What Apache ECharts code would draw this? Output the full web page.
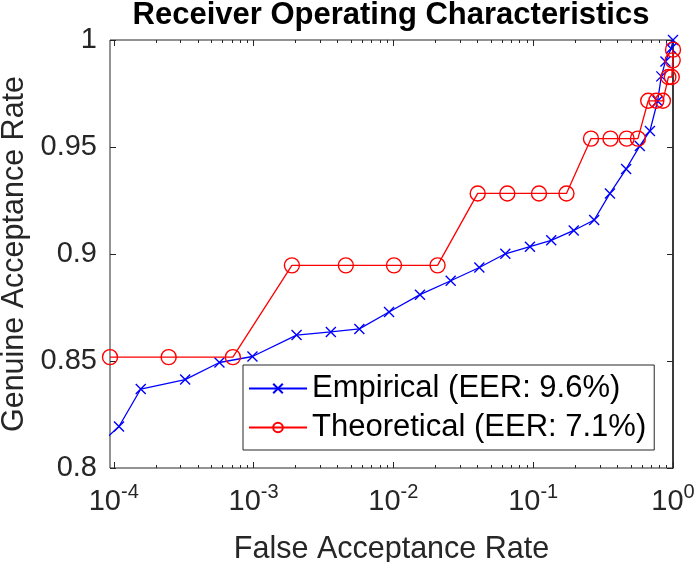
<!DOCTYPE html>
<html>
<head>
<meta charset="utf-8">
<script src="https://cdn.jsdelivr.net/npm/echarts@6/dist/echarts.min.js"></script>
<style>
html,body{margin:0;padding:0;background:#fff;}
#chart{width:699px;height:562px;}
</style>
</head>
<body>
<div id="chart"></div>
<script>
// ---- data ----
const titleText = 'Receiver Operating Characteristics';
const xName = 'False Acceptance Rate';
const yName = 'Genuine Acceptance Rate';
const empName = 'Empirical (EER: 9.6%)';
const theoName = 'Theoretical (EER: 7.1%)';

const empFAR = [5.2e-5, 1.09e-4, 1.56e-4, 3.24e-4, 5.70e-4, 9.82e-4, 2.03e-3, 3.57e-3, 5.71e-3, 9.31e-3, 0.0155, 0.0257, 0.0412, 0.0632, 0.0948, 0.1346, 0.195, 0.273, 0.354, 0.462, 0.579, 0.684, 0.776, 0.825, 0.883, 0.97, 1.0];
const empGAR = [0.800, 0.8194, 0.8369, 0.8413, 0.8493, 0.8521, 0.8621, 0.8636, 0.8650, 0.8729, 0.8810, 0.8875, 0.8937, 0.9001, 0.9034, 0.9064, 0.9110, 0.9159, 0.9283, 0.9397, 0.9505, 0.9575, 0.9715, 0.9830, 0.9900, 0.9960, 1.0];

const theoFAR = [9.4e-5, 2.47e-4, 7.11e-4, 1.88e-3, 4.57e-3, 1.01e-2, 2.07e-2, 4.01e-2, 6.53e-2, 0.110, 0.173, 0.259, 0.357, 0.466, 0.561, 0.665, 0.760, 0.847, 0.927, 0.980, 0.995, 1.0];
const theoGAR = [0.8518, 0.8518, 0.8518, 0.8947, 0.8947, 0.8947, 0.8947, 0.9283, 0.9283, 0.9283, 0.9283, 0.9539, 0.9539, 0.9539, 0.9539, 0.9716, 0.9716, 0.9716, 0.9827, 0.9827, 0.9905, 0.9955];

const xMin = 9.4e-5;
const xMax = 1;
const xMajorTicks = [1e-4, 1e-3, 1e-2, 1e-1, 1];
const xMinorMult = [2, 3, 4, 5, 6, 7, 8, 9];
const xMinorDecades = [1e-5, 1e-4, 1e-3, 1e-2, 1e-1];
const yMin = 0.8, yMax = 1, yStep = 0.05;

// ---- build ----
const FONT = '"Liberation Sans", Arial, Helvetica, sans-serif';
const AX = '#262626';
const xMinorTicks = [];
xMinorDecades.forEach(d => xMinorMult.forEach(m => {
  const v = +(d * m).toPrecision(3);
  if (v >= xMin && v <= xMax) xMinorTicks.push(v);
}));

function zip(a, b) { return a.map((v, i) => [v, b[i]]); }

function xAxisDef(pos, ticks, len, withLabel) {
  return {
    type: 'log', logBase: 10, min: xMin, max: xMax, position: pos,
    axisLine: { show: false, onZero: false },
    splitLine: { show: false },
    minorTick: { show: false },
    axisTick: { show: true, inside: true, length: len, customValues: ticks, lineStyle: { color: AX, width: 1 } },
    axisLabel: withLabel ? {
      show: true, customValues: ticks, margin: 14,
      formatter: v => '{b|10}{s|' + Math.round(Math.log10(v)) + '}',
      rich: {
        b: { fontSize: 29, fontFamily: FONT, color: AX, verticalAlign: 'bottom', lineHeight: 34 },
        s: { fontSize: 20, fontFamily: FONT, color: AX, verticalAlign: 'top', lineHeight: 34 }
      }
    } : { show: false },
    name: withLabel ? xName : '',
    nameLocation: 'middle', nameGap: 66,
    nameTextStyle: { fontSize: 30.5, fontFamily: FONT, color: AX }
  };
}

const chart = echarts.init(document.getElementById('chart'), null, { renderer: 'canvas' });
const option = {
  animation: false,
  backgroundColor: '#fff',
  title: {
    text: titleText, left: 391, top: 0, padding: 0, textAlign: 'center',
    textStyle: { fontSize: 31, fontWeight: 'bold', fontFamily: FONT, color: '#000' }
  },
  grid: { left: 110, right: 26, top: 40, bottom: 94, show: true, borderColor: AX, borderWidth: 1, backgroundColor: '#fff', containLabel: false, outerBoundsMode: 'none' },
  legend: {
    orient: 'vertical', left: 243, top: 365,
    padding: [8, 8, 7, 5], itemGap: 8, itemWidth: 58, itemHeight: 12,
    backgroundColor: '#fff', borderColor: AX, borderWidth: 1, borderRadius: 0,
    textStyle: { fontSize: 31, fontFamily: FONT, color: '#000' },
    data: [empName, theoName]
  },
  xAxis: [
    xAxisDef('bottom', xMajorTicks, 6, true),
    xAxisDef('bottom', xMinorTicks, 3, false),
    xAxisDef('top', xMajorTicks, 6, false),
    xAxisDef('top', xMinorTicks, 3, false)
  ],
  yAxis: [
    {
      type: 'value', min: yMin, max: yMax, interval: yStep, position: 'left',
      axisLine: { show: false, onZero: false }, splitLine: { show: false },
      axisTick: { show: true, inside: true, length: 6, lineStyle: { color: AX } },
      axisLabel: { margin: 13, fontSize: 29, fontFamily: FONT, color: AX, formatter: v => String(+v.toFixed(2)) },
      name: yName, nameLocation: 'middle', nameGap: 78, nameRotate: 90,
      nameTextStyle: { fontSize: 30.5, fontFamily: FONT, color: AX }
    },
    {
      type: 'value', min: yMin, max: yMax, interval: yStep, position: 'right',
      axisLine: { show: true, onZero: false, lineStyle: { color: AX, width: 1.6 } }, splitLine: { show: false },
      axisTick: { show: true, inside: true, length: 6, lineStyle: { color: AX } },
      axisLabel: { show: false }
    }
  ],
  series: [
    {
      name: empName, type: 'line', xAxisIndex: 0, yAxisIndex: 0,
      data: zip(empFAR, empGAR),
      symbol: 'path://M0,0L10,10M10,0L0,10', symbolSize: 10,
      lineStyle: { color: '#0000ff', width: 1.3 },
      itemStyle: { color: '#0000ff', borderColor: '#0000ff', borderWidth: 1.4 },
      clip: true, z: 3
    },
    {
      name: theoName, type: 'line', xAxisIndex: 0, yAxisIndex: 0,
      data: zip(theoFAR, theoGAR),
      symbol: 'circle', symbolSize: 15,
      lineStyle: { color: '#ff0000', width: 1.3 },
      itemStyle: { color: 'rgba(255,0,0,0)', borderColor: '#ff0000', borderWidth: 1.4 },
      clip: false, z: 4
    }
  ]
};
chart.setOption(option);
</script>
</body>
</html>
